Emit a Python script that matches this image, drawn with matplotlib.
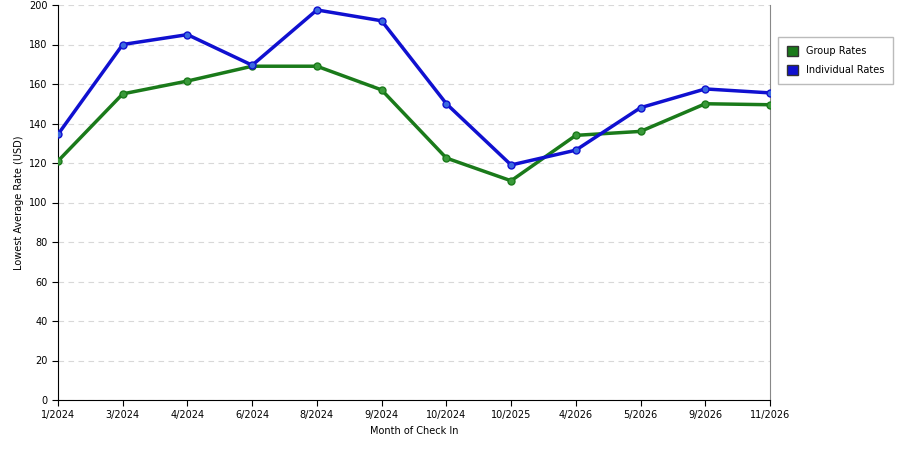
import matplotlib
matplotlib.use("Agg")
import matplotlib.pyplot as plt
from matplotlib.patches import Patch

months = ["1/2024","3/2024","4/2024","6/2024","8/2024","9/2024","10/2024","10/2025","4/2026","5/2026","9/2026","11/2026"]
group_rates = [121, 155, 161.5, 169, 169, 157, 122.5, 111, 134, 136, 150, 149.5]
individual_rates = [134.5, 180, 185, 169.5, 197.5, 192, 150, 119, 126.5, 148, 157.5, 155.5]

fig = plt.figure(figsize=(9, 4.5), dpi=100)
ax = fig.add_axes([58/900, 50/450, 712/900, 395/450])
x = range(len(months))
ax.plot(x, group_rates, color="#1a7a1a", lw=2.5, marker="o", ms=5, mfc="#3a9a3a", mec="#1a7a1a", zorder=3)
ax.plot(x, individual_rates, color="#1010d0", lw=2.5, marker="o", ms=5, mfc="#3a6ae0", mec="#1010d0", zorder=4)
ax.set_xlim(0, len(months)-1)
ax.set_ylim(0, 200)
ax.set_yticks(range(0, 201, 20))
ax.set_xticks(list(x))
ax.set_xticklabels(months)
ax.tick_params(labelsize=7, length=4)
ax.yaxis.grid(True, color="#d8d8d8", ls=(0, (5, 4)), lw=0.8)
ax.set_axisbelow(True)
ax.spines["top"].set_visible(False)
ax.spines["right"].set_color("#888888")
ax.set_xlabel("Month of Check In", fontsize=7)
ax.set_ylabel("Lowest Average Rate (USD)", fontsize=7)
handles = [Patch(facecolor="#1a7a1a", edgecolor="#333"), Patch(facecolor="#1010d0", edgecolor="#333")]
fig.legend(handles, ["Group Rates", "Individual Rates"], loc="upper left",
           bbox_to_anchor=(778/900, 1-37/450), fontsize=7, frameon=True,
           fancybox=False, edgecolor="#aaaaaa", handlelength=1.2, handleheight=1.2,
           labelspacing=0.9, borderpad=0.9, borderaxespad=0)
fig.savefig("out.png", dpi=100)
